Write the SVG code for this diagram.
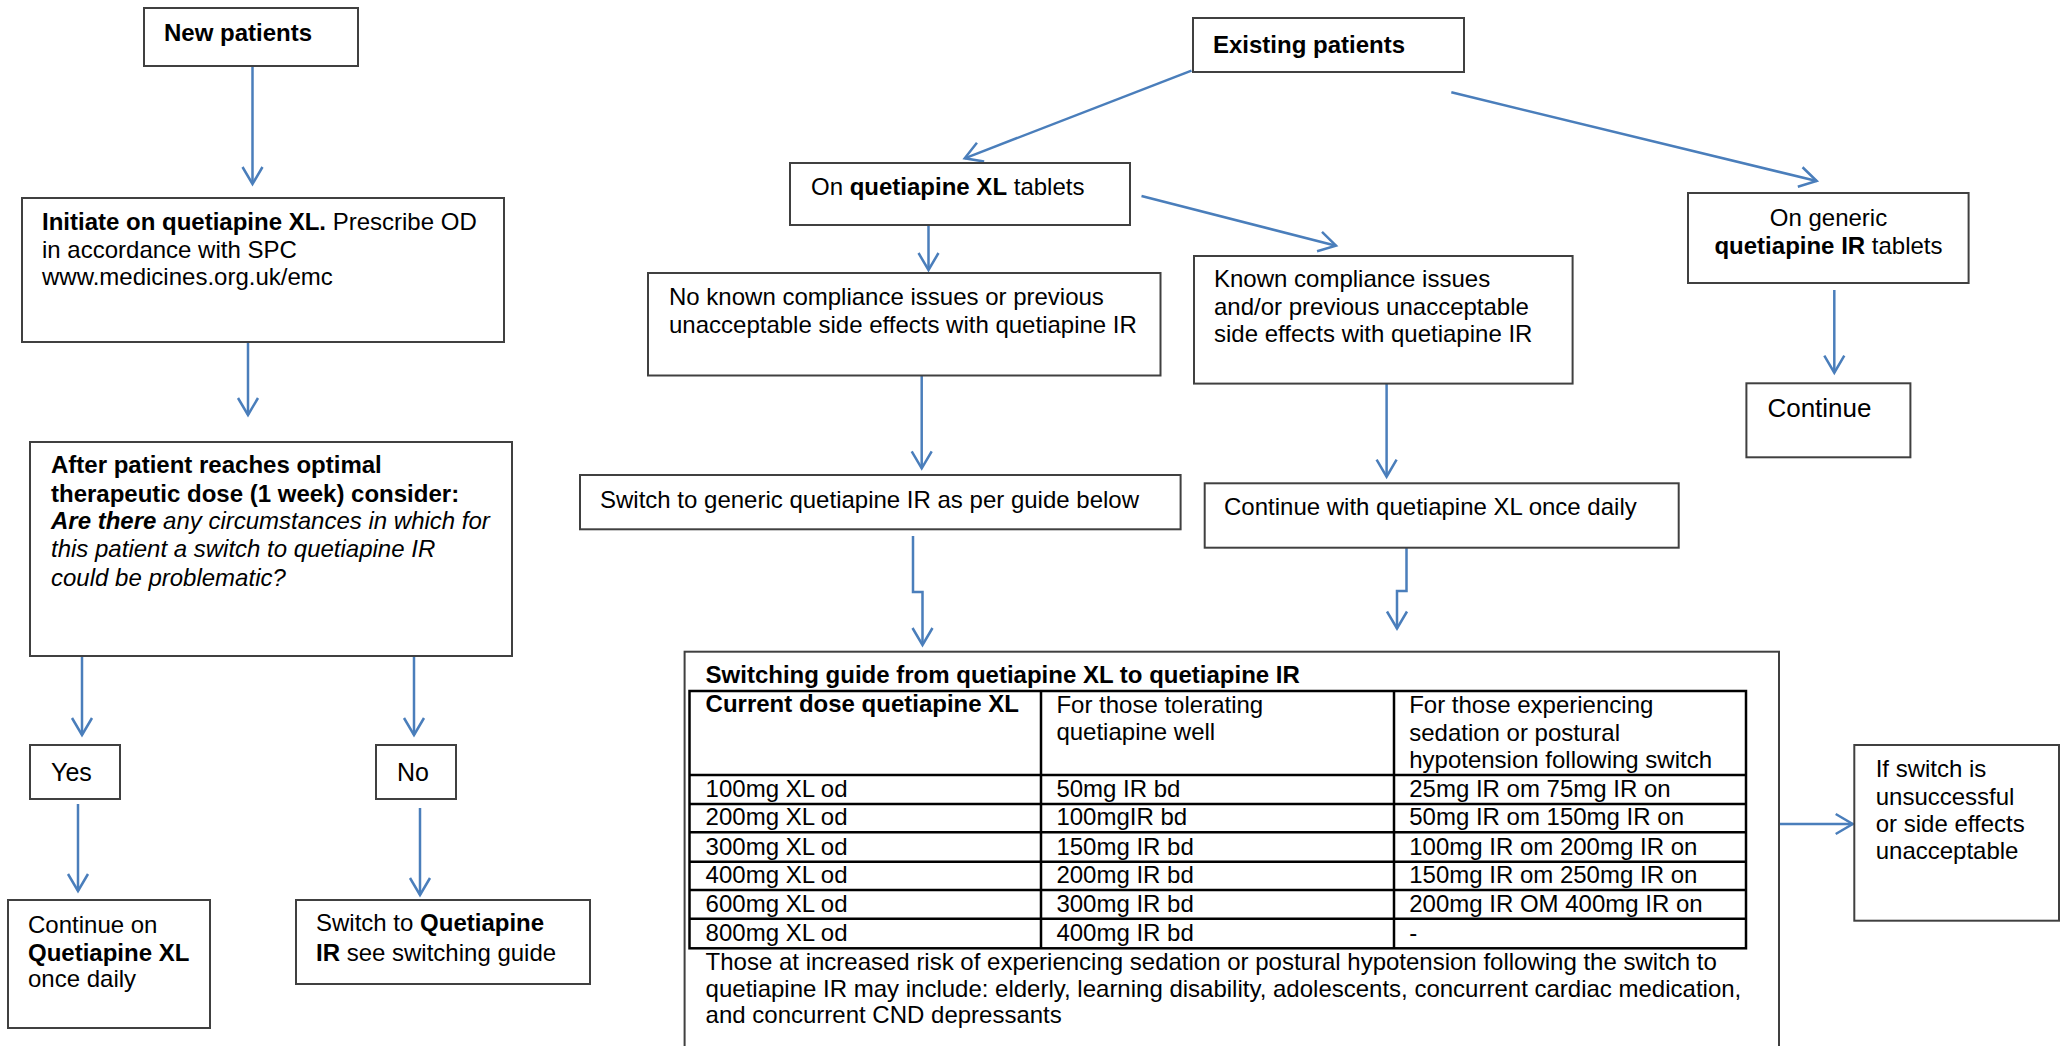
<svg xmlns="http://www.w3.org/2000/svg" width="2060" height="1046" viewBox="0 0 2060 1046">
<style>
text{font-family:"Liberation Sans",Arial,sans-serif;font-size:24px;fill:#000}
.b{font-weight:bold}
.i{font-style:italic}
.box{fill:#fff;stroke:#404040;stroke-width:2}
.tbl{fill:none;stroke:#000;stroke-width:2.5}
.c{fill:none;stroke:#4a7ebb;stroke-width:2.5;marker-end:url(#ah)}
</style>
<defs>
<marker id="ah" markerUnits="userSpaceOnUse" markerWidth="40" markerHeight="40" refX="0" refY="0" orient="auto" overflow="visible">
<path d="M-17,-10 L0,0 L-17,10" fill="none" stroke="#4a7ebb" stroke-width="2.5"/>
</marker>
</defs>
<rect width="2060" height="1046" fill="#fff"/>
<g id="connectors">
<path class="c" d="M252.5,66 V184"/>
<path class="c" d="M248,342 V415"/>
<path class="c" d="M82,656 V735"/>
<path class="c" d="M414,656 V735"/>
<path class="c" d="M78,804 V891"/>
<path class="c" d="M420,808 V895"/>
<path class="c" d="M1191.5,70.7 L964.7,158.3"/>
<path class="c" d="M1451.3,92.3 L1816.7,181"/>
<path class="c" d="M928.5,225 V270"/>
<path class="c" d="M1141.5,196 L1336,245.7"/>
<path class="c" d="M1834.3,290 V372.7"/>
<path class="c" d="M921.7,376 V468.3"/>
<path class="c" d="M1386.6,383.3 V476.7"/>
<path class="c" d="M913,536 V592 H922.5 V645"/>
<path class="c" d="M1406.5,547.7 V591 H1397 V628.5"/>
<path class="c" d="M1780,824 H1852.7"/>
</g>
<g id="new-patients">
<rect class="box" x="144" y="8" width="214" height="58"/>
<text x="164" y="41" class="b">New patients</text>
</g>
<g id="initiate">
<rect class="box" x="22" y="198" width="482" height="144"/>
<text x="42" y="230"><tspan class="b">Initiate on quetiapine XL.</tspan> Prescribe OD</text>
<text x="42" y="258">in accordance with SPC</text>
<text x="42" y="285">www.medicines.org.uk/emc</text>
</g>
<g id="decision">
<rect class="box" x="30" y="442" width="482" height="214"/>
<text x="51" y="473" class="b">After patient reaches optimal</text>
<text x="51" y="501.5" class="b">therapeutic dose (1 week) consider:</text>
<text x="51" y="529" class="i"><tspan class="b">Are there</tspan> any circumstances in which for</text>
<text x="51" y="557" class="i">this patient a switch to quetiapine IR</text>
<text x="51" y="586" class="i">could be problematic?</text>
</g>
<g id="yes">
<rect class="box" x="30" y="745" width="90" height="54"/>
<text x="51" y="780.5" style="font-size:25px">Yes</text>
</g>
<g id="no">
<rect class="box" x="376" y="745" width="80" height="54"/>
<text x="397" y="780.5" style="font-size:25px">No</text>
</g>
<g id="continue-xl">
<rect class="box" x="8" y="900" width="202" height="128"/>
<text x="28" y="933">Continue on</text>
<text x="28" y="960.5" class="b">Quetiapine XL</text>
<text x="28" y="987">once daily</text>
</g>
<g id="switch-ir">
<rect class="box" x="296" y="900" width="294" height="84"/>
<text x="316" y="931">Switch to <tspan class="b">Quetiapine</tspan></text>
<text x="316" y="961"><tspan class="b">IR</tspan> see switching guide</text>
</g>
<g id="existing-patients">
<rect class="box" x="1193" y="18" width="271" height="54"/>
<text x="1213" y="53.3" class="b">Existing patients</text>
</g>
<g id="on-xl">
<rect class="box" x="790" y="163" width="340" height="62"/>
<text x="811" y="195">On <tspan class="b">quetiapine XL</tspan> tablets</text>
</g>
<g id="no-known">
<rect class="box" x="648" y="273" width="512.5" height="102.5"/>
<text x="669" y="305">No known compliance issues or previous</text>
<text x="669" y="332.5">unacceptable side effects with quetiapine IR</text>
</g>
<g id="known">
<rect class="box" x="1194" y="256" width="378.6" height="127.6"/>
<text x="1214" y="287">Known compliance issues</text>
<text x="1214" y="315">and/or previous unacceptable</text>
<text x="1214" y="342">side effects with quetiapine IR</text>
</g>
<g id="on-generic-ir">
<rect class="box" x="1688" y="193" width="280.6" height="90"/>
<text x="1828.5" y="226" text-anchor="middle">On generic</text>
<text x="1828.5" y="254" text-anchor="middle"><tspan class="b">quetiapine IR</tspan> tablets</text>
</g>
<g id="continue">
<rect class="box" x="1746.4" y="383.3" width="164" height="74"/>
<text x="1767.4" y="417.3" style="font-size:26px">Continue</text>
</g>
<g id="switch-generic">
<rect class="box" x="580" y="475" width="600.6" height="54.3"/>
<text x="600" y="507.7">Switch to generic quetiapine IR as per guide below</text>
</g>
<g id="continue-with-xl">
<rect class="box" x="1204.7" y="483.3" width="474" height="64.4"/>
<text x="1224" y="515">Continue with quetiapine XL once daily</text>
</g>
<g id="switching-guide">
<rect class="box" x="684.6" y="651.7" width="1094.4" height="500"/>
<text x="705.6" y="683.3" class="b">Switching guide from quetiapine XL to quetiapine IR</text>
<rect class="tbl" x="689.5" y="691" width="1056.5" height="257.3"/>
<path class="tbl" d="M1041,691 V948.3 M1394,691 V948.3 M689.5,775 H1746 M689.5,804 H1746 M689.5,832.3 H1746 M689.5,861.7 H1746 M689.5,890 H1746 M689.5,918.7 H1746"/>
<text x="705.6" y="712" class="b">Current dose quetiapine XL</text>
<text x="1056.4" y="712.5">For those tolerating</text>
<text x="1056.4" y="740">quetiapine well</text>
<text x="1409.2" y="712.5">For those experiencing</text>
<text x="1409.2" y="740.5">sedation or postural</text>
<text x="1409.2" y="768.3">hypotension following switch</text>
<text x="705.6" y="797">100mg XL od</text>
<text x="1056.4" y="797">50mg IR bd</text>
<text x="1409.2" y="797">25mg IR om 75mg IR on</text>
<text x="705.6" y="825.3">200mg XL od</text>
<text x="1056.4" y="825.3">100mgIR bd</text>
<text x="1409.2" y="825.3">50mg IR om 150mg IR on</text>
<text x="705.6" y="854.7">300mg XL od</text>
<text x="1056.4" y="854.7">150mg IR bd</text>
<text x="1409.2" y="854.7">100mg IR om 200mg IR on</text>
<text x="705.6" y="883">400mg XL od</text>
<text x="1056.4" y="883">200mg IR bd</text>
<text x="1409.2" y="883">150mg IR om 250mg IR on</text>
<text x="705.6" y="911.7">600mg XL od</text>
<text x="1056.4" y="911.7">300mg IR bd</text>
<text x="1409.2" y="911.7">200mg IR OM 400mg IR on</text>
<text x="705.6" y="941.3">800mg XL od</text>
<text x="1056.4" y="941.3">400mg IR bd</text>
<text x="1409.2" y="941.3">-</text>
<text x="705.6" y="970">Those at increased risk of experiencing sedation or postural hypotension following the switch to</text>
<text x="705.6" y="996.7">quetiapine IR may include: elderly, learning disability, adolescents, concurrent cardiac medication,</text>
<text x="705.6" y="1023.3">and concurrent CND depressants</text>
</g>
<g id="if-switch">
<rect class="box" x="1854.3" y="745" width="204.7" height="175.7"/>
<text x="1875.7" y="777.3">If switch is</text>
<text x="1875.7" y="805">unsuccessful</text>
<text x="1875.7" y="831.7">or side effects</text>
<text x="1875.7" y="859.3">unacceptable</text>
</g>
</svg>
